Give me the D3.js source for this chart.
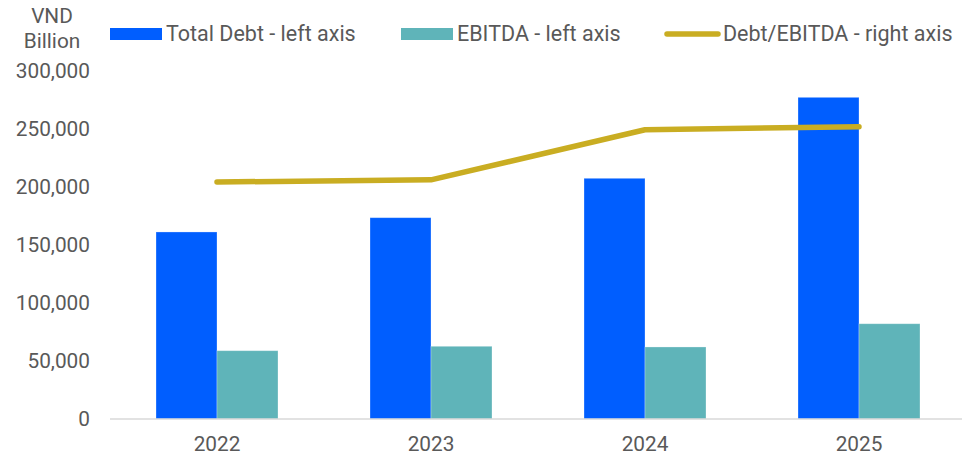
<!DOCTYPE html>
<html><head><meta charset="utf-8">
<script src="https://cdn.jsdelivr.net/npm/d3@7"></script>
<style>body{margin:0;background:#fff}svg{display:block;font-family:Roboto,"Noto Sans",sans-serif}</style>
</head><body><svg id="c" width="962" height="459"></svg>
<script>
const years = ["2022","2023","2024","2025"];
const totalDebt = [161000, 173300, 207200, 276900];
const ebitda = [58800, 62600, 62000, 82000];
const debtToEbitda = [2.72, 2.745, 3.32, 3.355];
const leftTicks = [0, 50000, 100000, 150000, 200000, 250000, 300000];
const seriesNames = ["Total Debt - left axis", "EBITDA - left axis", "Debt/EBITDA - right axis"];
const colors = ["#005EFF", "#5FB4B9", "#C9AD22"];

const svg = d3.select("#c");
const textColor = "#595959";
const fs = "20.8px";
const fsLeg = "21.5px";
const x = d3.scaleBand().domain(years).range([110, 966]).paddingInner(0.43).paddingOuter(0.215);
const xc = d => x(d) + x.bandwidth()/2;
const y = d3.scaleLinear().domain([0, 300000]).range([419, 70.5]);
const yR = d3.scaleLinear().domain([0, 4]).range([419, 70.5]);
const fmt = d3.format(",");

// left axis labels
const yAxis = d3.axisLeft(y).tickValues(leftTicks).tickFormat(fmt).tickSize(0).tickPadding(0);
const ga = svg.append("g").attr("transform","translate(90,0)").call(yAxis);
ga.select(".domain").remove();
ga.selectAll("text").attr("fill",textColor).style("font-size",fs).style("font-family","Roboto");

// unit title
svg.append("text").attr("x",52).attr("y",22.5).attr("text-anchor","middle").attr("fill",textColor).style("font-size",fs).text("VND");
svg.append("text").attr("x",52).attr("y",48).attr("text-anchor","middle").attr("fill",textColor).style("font-size",fs).text("Billion");

// bars
const sub = d3.scaleBand().domain([0,1]).range([0, x.bandwidth()]);
years.forEach((yr,i)=>{
  [totalDebt[i], ebitda[i]].forEach((v,j)=>{
    svg.append("rect").attr("x", x(yr)+sub(j)).attr("width", sub.bandwidth())
      .attr("y", y(v)).attr("height", y(0)-y(v)).attr("fill", colors[j])
      .attr("stroke","rgba(255,255,255,0.35)").attr("stroke-width",0.8);
  });
});

// x axis
const xAxis = d3.axisBottom(x).tickSize(0).tickPadding(17);
const gx = svg.append("g").attr("transform","translate(0,419)").call(xAxis);
gx.select(".domain").remove();
gx.selectAll("text").attr("fill",textColor).style("font-size",fs).style("font-family","Roboto");
svg.append("line").attr("x1",110).attr("x2",962).attr("y1",419).attr("y2",419).attr("stroke","#d9d9d9").attr("stroke-width",1.5);

// line
const line = d3.line().x((d,i)=>xc(years[i])).y(d=>yR(d));
svg.append("path").datum(debtToEbitda).attr("d",line).attr("fill","none")
  .attr("stroke",colors[2]).attr("stroke-width",5.5).attr("stroke-linecap","round").attr("stroke-linejoin","round");

// legend
const leg = [{x:110,t:166},{x:401,t:457},{x:664,t:723}];
leg.forEach((l,i)=>{
  if(i<2){
    svg.append("rect").attr("x",l.x).attr("y",28).attr("width",52).attr("height",12).attr("fill",colors[i]);
  } else {
    svg.append("line").attr("x1",l.x+3).attr("x2",l.x+54).attr("y1",34).attr("y2",34)
      .attr("stroke",colors[2]).attr("stroke-width",5.5).attr("stroke-linecap","round");
  }
  svg.append("text").attr("x",l.t).attr("y",41).attr("fill",textColor).style("font-size",fsLeg).text(seriesNames[i]);
});
</script></body></html>
